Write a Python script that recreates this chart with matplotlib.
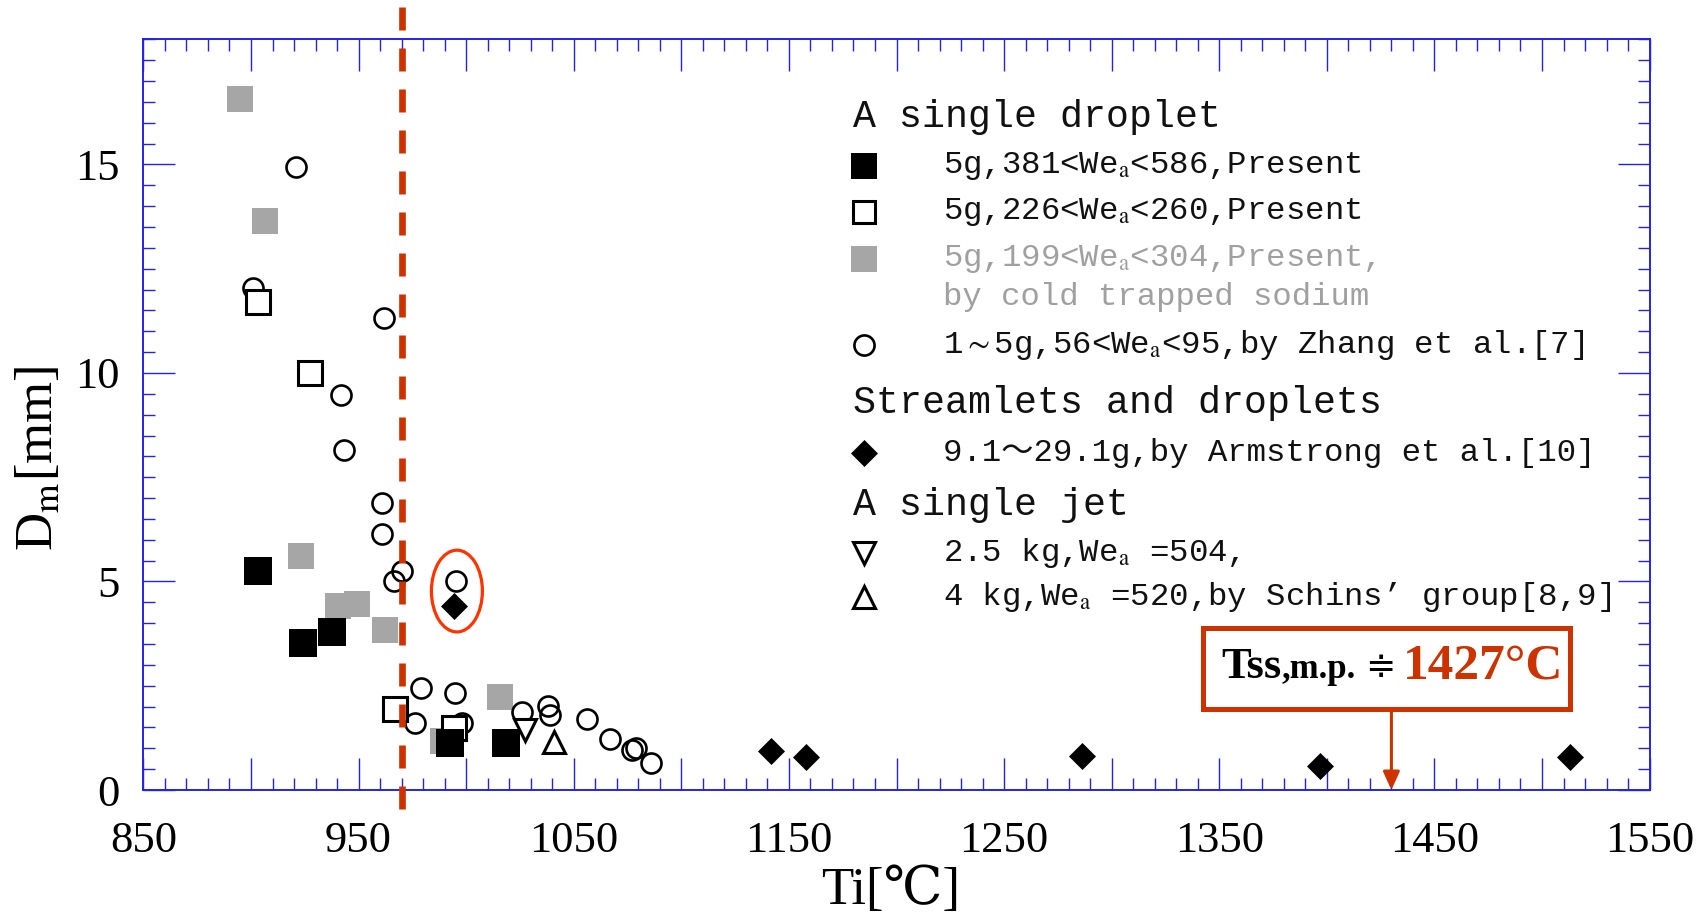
import matplotlib
matplotlib.use('Agg')
import matplotlib.pyplot as plt
from matplotlib.patches import Ellipse, Rectangle
from matplotlib.ticker import MultipleLocator, FixedLocator, FuncFormatter
from matplotlib.lines import Line2D

plt.rcParams['mathtext.fontset'] = 'stix'

# ---------------- data ----------------
black_T = [903.3, 924.4, 937.5, 992.5, 1018.4]
black_D = [5.25, 3.53, 3.80, 1.12, 1.13]

open_T = [903.3, 927.5, 967.0, 994.4]
open_D = [11.70, 10.00, 1.94, 1.48]

gray_T = [894.8, 906.5, 923.3, 940.6, 949.4, 962.3, 989.4, 1015.8]
gray_D = [16.57, 13.64, 5.62, 4.41, 4.46, 3.84, 1.18, 2.22]

zhang_T = [920.9, 901.0, 962.0, 942.0, 943.0, 961.0, 961.0, 970.1, 966.6, 995.2,
           979.0, 994.9, 976.0, 998.0, 1025.9, 1038.2, 1039.0, 1056.0, 1067.0,
           1077.0, 1079.0, 1085.8]
zhang_D = [14.94, 12.03, 11.31, 9.47, 8.16, 6.89, 6.14, 5.26, 5.01, 5.01,
           2.45, 2.32, 1.61, 1.61, 1.88, 2.01, 1.80, 1.70, 1.22,
           0.96, 1.00, 0.65]

arm_T = [994.4, 1141.5, 1158.0, 1286.0, 1397.0, 1513.0]
arm_D = [4.40, 0.93, 0.80, 0.82, 0.58, 0.80]

jet25_T = [1027.4]
jet25_D = [1.44]
jet4_T = [1041.0]
jet4_D = [1.16]

x_major = [850, 900, 950, 1000, 1050, 1100, 1150, 1200, 1250, 1300, 1350, 1400, 1450, 1500, 1550]
x_labeled = [850, 950, 1050, 1150, 1250, 1350, 1450, 1550]
y_major = [0, 5, 10, 15]

dash_T = 970
melt_T = 1430
circled_T, circled_D = 995.7, 4.77

# ---------------- figure ----------------
W, H = 1704, 917
fig = plt.figure(figsize=(W / 100, H / 100), dpi=100)


def fx(px):
    return px / W


def fy(py):
    return 1 - py / H


L, R, T, B = 143.4, 1649.6, 39.3, 790.0
ax = fig.add_axes([fx(L), fy(B), fx(R) - fx(L), fy(T) - fy(B)])
ax.set_xlim(850, 1550)
ax.set_ylim(0, 18)

blue = '#2222ee'
for s in ax.spines.values():
    s.set_color(blue)
    s.set_linewidth(1.4)

ax.xaxis.set_major_locator(FixedLocator(x_major))
ax.xaxis.set_major_formatter(FuncFormatter(lambda v, p: f"{int(round(v))}" if int(round(v)) in x_labeled else ""))
ax.xaxis.set_minor_locator(MultipleLocator(10))
ax.yaxis.set_major_locator(FixedLocator(y_major))
ax.yaxis.set_minor_locator(MultipleLocator(0.5))
ax.tick_params(which='both', direction='in', top=True, right=True, color=blue, labelcolor='black')
ax.tick_params(which='major', length=23, width=1.0)
ax.tick_params(which='minor', length=8.5, width=1.0)
ax.tick_params(axis='x', which='major', pad=22)
ax.tick_params(axis='y', which='major', pad=17)
for lab in ax.get_xticklabels() + ax.get_yticklabels():
    lab.set_fontfamily('Liberation Serif')
    lab.set_fontsize(32)

# ---------------- data marks ----------------
ax.plot(gray_T, gray_D, 's', ms=18.7, mfc='#A6A6A6', mec='#A6A6A6', mew=0, ls='none', zorder=3)
ax.plot(zhang_T, zhang_D, 'o', ms=14.4, mfc='none', mec='black', mew=1.9, ls='none', zorder=4)
ax.plot(open_T, open_D, 's', ms=16.6, mfc='white', mec='black', mew=2.2, ls='none', zorder=5)
ax.plot(black_T, black_D, 's', ms=20, mfc='black', mec='black', mew=0, ls='none', zorder=6)
ax.plot(arm_T, arm_D, 'D', ms=13.6, mfc='black', mec='black', mew=0.5, ls='none', zorder=6)
ax.plot(jet25_T, jet25_D, 'v', ms=15.5, mfc='white', mec='black', mew=2.2, ls='none', zorder=6)
ax.plot(jet4_T, jet4_D, '^', ms=15.5, mfc='white', mec='black', mew=2.2, ls='none', zorder=6)

ax.add_patch(Ellipse((circled_T, circled_D), 23.7, 1.96, fill=False, edgecolor='#FF3300', lw=2.3, zorder=7))

lw_dash = 4.8
ax.plot([dash_T, dash_T], [18.78, -0.79], color='#CC3300', lw=lw_dash,
        ls=(0, (23 * 0.72 / lw_dash, 18 * 0.72 / lw_dash)), dash_capstyle='butt',
        clip_on=False, zorder=8)

# ---------------- axis labels ----------------
serif = ['Liberation Serif', 'DejaVu Serif', 'Noto Sans CJK SC']
fig.text(fx(891), fy(891), 'Ti[℃]', ha='center', va='center', fontsize=38, family=serif)
fig.text(fx(40), fy(458), r'D$_{\rm m}$[mm]', ha='center', va='center', rotation=90,
         fontsize=38, family=serif)

# ---------------- legend (manual) ----------------
mono = ['Liberation Mono', 'Noto Sans CJK SC']
head_x, mark_x, text_x = 853, 864, 943
hsize, esize = 27.5, 23.3


def heading(y, s):
    fig.text(fx(head_x), fy(y), s, ha='left', va='center', fontsize=hsize, family=mono, color='#111111')


def entry(y, s, color='#111111'):
    fig.text(fx(text_x), fy(y), s, ha='left', va='center', fontsize=esize, family=mono, color=color)


def key(y, **kw):
    fig.add_artist(Line2D([fx(mark_x)], [fy(y)], transform=fig.transFigure, ls='none', **kw))


heading(116.7, 'A single droplet')
key(166, marker='s', ms=19, mfc='black', mec='black', mew=0)
entry(166, r'5g,381<We$_{\rm a}$<586,Present')
key(212.3, marker='s', ms=16, mfc='white', mec='black', mew=2.2)
entry(212.3, r'5g,226<We$_{\rm a}$<260,Present')
key(259, marker='s', ms=19, mfc='#A6A6A6', mec='#A6A6A6', mew=0)
entry(259, r'5g,199<We$_{\rm a}$<304,Present,', color='#A0A0A0')
entry(296.7, 'by cold trapped sodium', color='#A0A0A0')
key(345, marker='o', ms=14.5, mfc='none', mec='black', mew=1.9)
entry(345, r'1$\sim$5g,56<We$_{\rm a}$<95,by Zhang et al.[7]')
heading(403, 'Streamlets and droplets')
key(452.7, marker='D', ms=13.5, mfc='black', mec='black', mew=0.5)
entry(452.7, '9.1～29.1g,by Armstrong et al.[10]')
heading(505, 'A single jet')
key(553.3, marker='v', ms=16, mfc='white', mec='black', mew=2.2)
entry(553.3, r'2.5 kg,We$_{\rm a}$ =504,')
key(596.7, marker='^', ms=16, mfc='white', mec='black', mew=2.2)
entry(596.7, r'4 kg,We$_{\rm a}$ =520,by Schins’ group[8,9]')

# ---------------- melting point box ----------------
red = '#CC3300'
bx0, by0, bx1, by1 = 1202.7, 628.3, 1570.0, 709.0
fig.add_artist(Rectangle((fx(bx0), fy(by1)), fx(bx1) - fx(bx0), fy(by0) - fy(by1),
                         transform=fig.transFigure, fill=True, facecolor='white',
                         edgecolor=red, lw=3.6, zorder=9))
tserif = ['Liberation Serif', 'DejaVu Serif']
base = 678.3
fig.text(fx(1221), fy(base), 'Tss', ha='left', va='baseline', fontsize=32,
         fontweight='bold', family=tserif, color='black', zorder=10)
fig.text(fx(1281), fy(base), ',m.p.', ha='left', va='baseline', fontsize=25,
         fontweight='bold', family=tserif, color='black', zorder=10)
fig.text(fx(1380), fy(667), '≑', ha='center', va='center', fontsize=26,
         family=['DejaVu Sans'], color='black', zorder=10)
fig.text(fx(1402.7), fy(base), '1427°C', ha='left', va='baseline', fontsize=37,
         fontweight='bold', family=tserif, color=red, zorder=10)

box_bottom_D = (B - by1) / ((B - T) / 18)
ax.annotate('', xy=(melt_T, 0), xycoords='data', xytext=(melt_T, box_bottom_D), textcoords='data',
            arrowprops=dict(arrowstyle='-|>,head_length=0.55,head_width=0.25', color=red, lw=2.2,
                            shrinkA=0, shrinkB=0, mutation_scale=20),
            annotation_clip=False, zorder=9)

fig.savefig('out.png', dpi=100)
